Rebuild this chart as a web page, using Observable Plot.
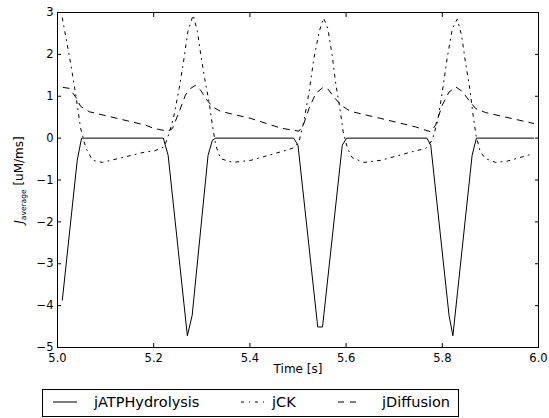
<!DOCTYPE html>
<html><head><meta charset="utf-8">
<script src="https://cdn.jsdelivr.net/npm/d3@7"></script>
<script src="https://cdn.jsdelivr.net/npm/@observablehq/plot@0.6"></script>
<style>
body{margin:0;background:#fff;}
#wrap{position:relative;width:549px;height:418px;font-family:"DejaVu Sans",sans-serif;background:#fff;}
#wrap svg{display:block;}
</style></head><body><div id="wrap"></div>
<script>
const xTicks = [5.0, 5.2, 5.4, 5.6, 5.8, 6.0];
const yTicks = [-5, -4, -3, -2, -1, 0, 1, 2, 3];
const seriesNames = ["jATPHydrolysis", "jCK", "jDiffusion"];

const hydT = [5.010, 5.041, 5.050, 5.220, 5.230, 5.270, 5.280, 5.313, 5.322, 5.329, 5.491, 5.500, 5.541, 5.551, 5.592, 5.601, 5.768, 5.776, 5.814, 5.822, 5.862, 5.871, 5.990];
const hydV = [-3.87, -0.53, 0, 0, -0.41, -4.72, -4.23, -0.41, -0.05, 0, 0, -0.17, -4.51, -4.51, -0.17, 0, 0, -0.17, -4.23, -4.72, -0.41, 0, 0];

const ckT = [5.010, 5.028, 5.038, 5.048, 5.059, 5.073, 5.093, 5.183, 5.201, 5.222, 5.232, 5.241, 5.253, 5.262, 5.271, 5.282, 5.291, 5.298, 5.306, 5.315, 5.322, 5.329, 5.339, 5.364, 5.402, 5.471, 5.492, 5.502, 5.512, 5.523, 5.533, 5.544, 5.553, 5.562, 5.571, 5.578, 5.587, 5.594, 5.603, 5.613, 5.637, 5.672, 5.744, 5.765, 5.779, 5.790, 5.800, 5.810, 5.821, 5.831, 5.840, 5.848, 5.857, 5.864, 5.870, 5.879, 5.890, 5.911, 5.935, 5.990];
const ckV = [2.87, 1.74, 1.03, 0.24, -0.24, -0.53, -0.58, -0.33, -0.305, -0.21, 0.11, 0.47, 1.19, 1.82, 2.54, 2.94, 2.54, 1.98, 1.42, 0.87, 0.31, -0.17, -0.49, -0.58, -0.53, -0.305, -0.23, -0.09, 0.39, 1.10, 1.90, 2.54, 2.87, 2.62, 1.98, 1.34, 0.71, 0.15, -0.25, -0.47, -0.58, -0.53, -0.305, -0.25, -0.05, 0.39, 1.10, 1.90, 2.62, 2.84, 2.46, 1.82, 1.19, 0.55, 0.07, -0.33, -0.49, -0.58, -0.55, -0.37];

const difT = [5.012, 5.024, 5.038, 5.048, 5.066, 5.183, 5.201, 5.229, 5.239, 5.253, 5.266, 5.277, 5.287, 5.298, 5.308, 5.322, 5.339, 5.402, 5.464, 5.502, 5.511, 5.523, 5.537, 5.551, 5.561, 5.575, 5.589, 5.609, 5.672, 5.744, 5.776, 5.786, 5.800, 5.814, 5.828, 5.841, 5.855, 5.869, 5.890, 5.990];
const difV = [1.21, 1.19, 0.98, 0.76, 0.63, 0.31, 0.23, 0.165, 0.23, 0.63, 1.03, 1.19, 1.26, 1.14, 0.95, 0.75, 0.64, 0.47, 0.24, 0.165, 0.31, 0.71, 1.07, 1.20, 1.19, 0.98, 0.79, 0.64, 0.47, 0.27, 0.15, 0.31, 0.79, 1.10, 1.22, 1.12, 0.91, 0.71, 0.61, 0.35];

const toRows = (t, v) => t.map((d, i) => ({t: d, v: v[i]}));
const styles = [null, "3,5,1,5", "6,6"];
const seriesData = [toRows(hydT, hydV), toRows(ckT, ckV), toRows(difT, difV)];

const plot = Plot.plot({
  width: 549,
  height: 386,
  marginLeft: 57,
  marginRight: 11,
  marginTop: 12,
  marginBottom: 39,
  x: {domain: [5, 6]},
  y: {domain: [-5, 3]},
  style: {fontFamily: "'DejaVu Sans', sans-serif", fontSize: "11.5px", color: "black", background: "white"},
  marks: [
    ...seriesData.map((d, i) => Plot.line(d, {x: "t", y: "v", stroke: "black", strokeWidth: 1, strokeDasharray: styles[i]})),
    Plot.frame({stroke: "black", strokeWidth: 1}),
    Plot.axisX(xTicks, {anchor: "bottom", tickSize: -4, tickPadding: 10.5, tickFormat: d3.format(".1f"), label: null}),
    Plot.axisX(xTicks, {anchor: "top", tickSize: -4, tickFormat: () => "", label: null}),
    Plot.axisY(yTicks, {anchor: "left", tickSize: -4, tickPadding: 8, label: null}),
    Plot.axisY(yTicks, {anchor: "right", tickSize: -4, tickFormat: () => "", label: null}),
    Plot.text(["Time [s]"], {frameAnchor: "bottom", lineAnchor: "top", dy: 17, fontSize: 12, fill: "black"})
  ]
});

const wrap = document.getElementById("wrap");
wrap.appendChild(plot);

// y label with subscript
const yl = d3.select(plot).append("text")
  .attr("transform", "translate(22.5,180) rotate(-90)")
  .attr("text-anchor", "middle")
  .attr("font-size", 12)
  .attr("fill", "black")
  .attr("font-family", "'DejaVu Sans', sans-serif");
yl.append("tspan").attr("font-style", "italic").text("J");
yl.append("tspan").attr("font-size", 7.5).attr("dy", 3).text("average");
yl.append("tspan").attr("dy", -3).text(" [uM/ms]");

// legend
const leg = d3.select(wrap).append("svg").attr("width", 549).attr("height", 32)
  .style("font-family", "'DejaVu Sans', sans-serif");
leg.append("rect").attr("x", 42.5).attr("y", 3.5).attr("width", 416).attr("height", 27)
  .attr("fill", "white").attr("stroke", "black").attr("stroke-width", 1);
const sampleX = [[53, 77], [241, 265], [338, 362]];
const textX = [94, 272, 382];
seriesNames.forEach((name, i) => {
  leg.append("line").attr("x1", sampleX[i][0]).attr("x2", sampleX[i][1]).attr("y1", 16).attr("y2", 16)
    .attr("stroke", "black").attr("stroke-width", 1).attr("stroke-dasharray", styles[i]);
  leg.append("text").attr("x", textX[i]).attr("y", 20.5).attr("font-size", 14.5).attr("fill", "black").text(name);
});
</script></body></html>
